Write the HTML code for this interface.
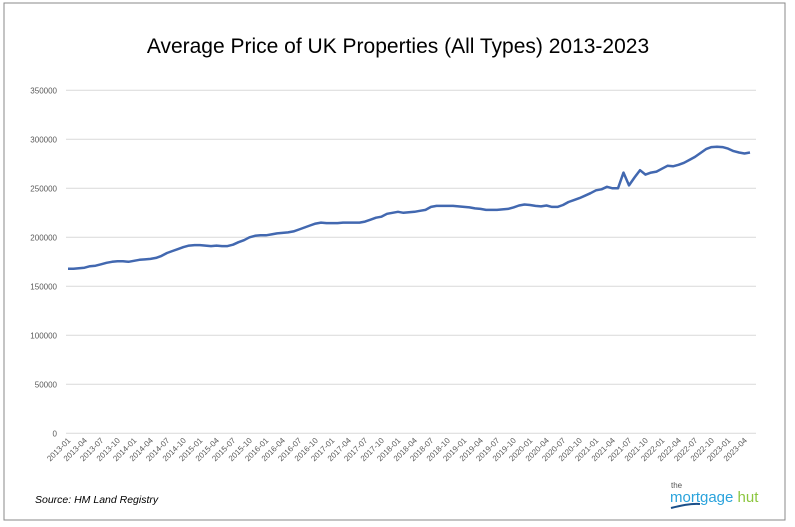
<!DOCTYPE html>
<html><head><meta charset="utf-8"><style>
body{margin:0;background:#fff;}
svg{display:block;font-family:"Liberation Sans",sans-serif;}
</style></head><body>
<svg width="795" height="527">
<rect x="4" y="3" width="781" height="517" fill="#fff" stroke="#888" stroke-width="1"/>
<text x="398" y="53" text-anchor="middle" font-size="21" fill="#000">Average Price of UK Properties (All Types) 2013-2023</text>
<g id="grid"></g><g id="ylab"></g><g id="xlab"></g>
<path id="line" fill="none" stroke="#4268b0" stroke-width="2.5" stroke-linejoin="round"/>
<text x="35" y="503" font-size="10.5" font-style="italic" fill="#000">Source: HM Land Registry</text>
<g>
<text x="671" y="488" font-size="8" fill="#555">the</text>
<text x="670" y="502" font-size="15" fill="#2aa3dc">mortgage <tspan fill="#8cc63f">hut</tspan></text>
<path d="M671 508 Q690 503 700 504" stroke="#1a4f8a" stroke-width="2" fill="none"/>
</g>
</svg>
<script>
const yTicks=[0,50000,100000,150000,200000,250000,300000,350000];
const xTickLabels=["2013-01","2013-04","2013-07","2013-10","2014-01","2014-04","2014-07","2014-10","2015-01","2015-04","2015-07","2015-10","2016-01","2016-04","2016-07","2016-10","2017-01","2017-04","2017-07","2017-10","2018-01","2018-04","2018-07","2018-10","2019-01","2019-04","2019-07","2019-10","2020-01","2020-04","2020-07","2020-10","2021-01","2021-04","2021-07","2021-10","2022-01","2022-04","2022-07","2022-10","2023-01","2023-04"];
const prices=[168,168,168.5,169,170.5,171,172.5,174,175,175.5,175.5,175,
176,177,177.5,178,179,181,184,186,188,190,191.5,192,
192,191.5,191,191.5,191,191,192.5,195,197,200,201.5,202,
202,203,204,204.5,205,206,208,210,212,214,215,214.5,
214.5,214.5,215,215,215,215,216,218,220,221,224,225,
226,225,225.5,226,227,228,231,232,232,232,232,231.5,
231,230.5,229.5,229,228,228,228,228.5,229,230.5,232.5,233.5,
233,232,231.5,232.5,231,231,233,236,238,240,242.5,245,
248,249,251.5,250,250,266,253,261,268.5,264,266,267,
270,273,272.5,274,276,279,282,286,290,292,292.5,292,
290.5,288,286.5,285.5,286.5];
const NS="http://www.w3.org/2000/svg";
const x0=68,dx=5.5,yBase=433.3,pxPer=49/50000;
const X=i=>x0+i*dx, Y=v=>yBase-v*pxPer;
const grid=document.getElementById('grid'),ylab=document.getElementById('ylab'),xlab=document.getElementById('xlab');
yTicks.forEach(t=>{
 const l=document.createElementNS(NS,'line');
 
 
 l.setAttribute('x1',66);l.setAttribute('x2',756);l.setAttribute('y1',Y(t));l.setAttribute('y2',Y(t));
 l.setAttribute('stroke','#d9d9d9');l.setAttribute('stroke-width','1');grid.appendChild(l);
 const tx=document.createElementNS(NS,'text');
 
 
 tx.setAttribute('x',57);tx.setAttribute('y',Y(t)+3);tx.setAttribute('text-anchor','end');
 tx.setAttribute('font-size','8');tx.setAttribute('fill','#595959');tx.textContent=t;ylab.appendChild(tx);
});
xTickLabels.forEach((s,k)=>{
 const tx=document.createElementNS(NS,'text');
 
 
 const px=X(k*3)+3,py=441;
 tx.setAttribute('x',px);tx.setAttribute('y',py);tx.setAttribute('text-anchor','end');
 tx.setAttribute('transform','rotate(-45 '+px+' '+py+')');
 tx.setAttribute('font-size','8');tx.setAttribute('fill','#595959');tx.textContent=s;xlab.appendChild(tx);
});
document.getElementById('line').setAttribute('d',prices.map((v,i)=>(i?'L':'M')+X(i).toFixed(1)+' '+Y(v*1000).toFixed(1)).join(' '));
</script>
</body></html>
